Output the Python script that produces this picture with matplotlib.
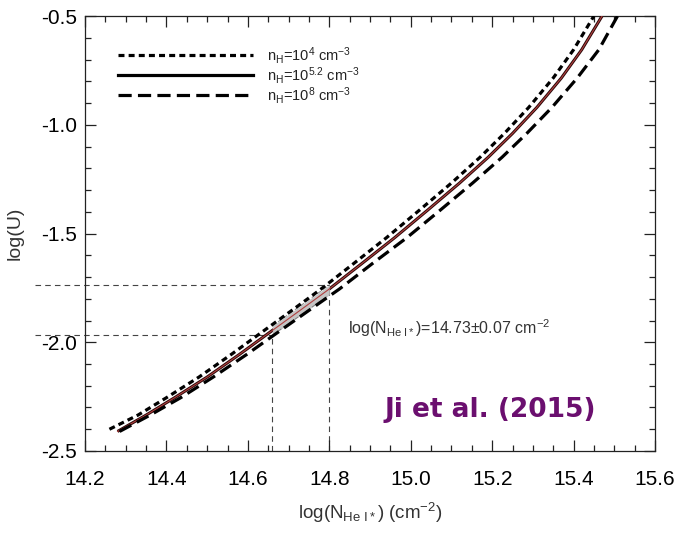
import matplotlib
matplotlib.use("Agg")
import matplotlib.pyplot as plt
from matplotlib.ticker import MultipleLocator

plt.rcParams['font.family'] = ['Liberation Sans', 'DejaVu Sans']
plt.rcParams['mathtext.fontset'] = 'custom'
plt.rcParams['mathtext.rm'] = 'Liberation Sans'
plt.rcParams['mathtext.it'] = 'Liberation Sans:italic'
plt.rcParams['mathtext.bf'] = 'Liberation Sans:bold'
plt.rcParams['lines.scale_dashes'] = False

# ---- data ----
x_solid = [14.28, 14.35, 14.42, 14.50, 14.58, 14.66, 14.73, 14.80, 14.88, 14.96,
           15.04, 15.12, 15.19, 15.25, 15.31, 15.37, 15.42, 15.47]
y_solid = [-2.41, -2.335, -2.255, -2.16, -2.055, -1.946, -1.851, -1.755, -1.638, -1.52,
           -1.395, -1.268, -1.15, -1.04, -0.92, -0.785, -0.655, -0.50]

x_dot = [14.26, 14.33, 14.40, 14.48, 14.56, 14.64, 14.71, 14.78, 14.86, 14.94,
         15.02, 15.10, 15.17, 15.23, 15.29, 15.35, 15.40, 15.45]
y_dot = [-2.40, -2.335, -2.255, -2.16, -2.055, -1.946, -1.851, -1.755, -1.638, -1.52,
         -1.395, -1.268, -1.15, -1.04, -0.92, -0.785, -0.655, -0.50]

x_dash = [14.285, 14.36, 14.435, 14.515, 14.598, 14.68, 14.752, 14.825, 14.906, 14.99,
          15.071, 15.152, 15.224, 15.285, 15.347, 15.409, 15.462, 15.508]
y_dash = [-2.41, -2.335, -2.255, -2.16, -2.055, -1.946, -1.851, -1.755, -1.638, -1.52,
          -1.395, -1.268, -1.15, -1.04, -0.92, -0.785, -0.655, -0.50]

shade_x = [14.66, 14.80]
shade_lo = [-1.968, -1.782]
shade_hi = [-1.925, -1.737]

guide_x = [14.66, 14.80]
guide_y = [-1.967, -1.737]

legend_labels = [r'n$_\mathrm{H}$=10$^4$ cm$^{-3}$',
                 r'n$_\mathrm{H}$=10$^{5.2}$ cm$^{-3}$',
                 r'n$_\mathrm{H}$=10$^8$ cm$^{-3}$']
x_ticks = [14.2, 14.4, 14.6, 14.8, 15.0, 15.2, 15.4, 15.6]
y_ticks = [-2.5, -2.0, -1.5, -1.0, -0.5]

# ---- figure ----
fig = plt.figure(figsize=(6.74, 5.33), dpi=100)
ax = fig.add_axes([85/674, 1-451/533, 570/674, 435/533])

dot_style = (0, (4.3, 3.0))
dash_style = (0, (9.5, 4.5))

# guide lines
gcol = '#444444'
gls = (0, (4, 3))
for gx, gy in zip(guide_x, guide_y):
    ax.plot([14.077, gx], [gy, gy], color=gcol, lw=0.8, ls=gls, clip_on=False, zorder=1)
    ax.plot([gx, gx], [-2.5, gy], color=gcol, lw=0.8, ls=gls, zorder=1)

# curves
ax.plot(x_solid, y_solid, color='#2a0808', lw=2.2, zorder=3, solid_capstyle='butt')

# shaded band (over the dark solid, under the red core)
ax.fill_between(shade_x, shade_lo, shade_hi, color='#c4c4c4', zorder=4, lw=0)
ax.plot(shade_x, shade_lo, color='#777777', lw=0.6, ls=(0, (3, 2)), zorder=4)
ax.plot(shade_x, shade_hi, color='#777777', lw=0.6, ls=(0, (3, 2)), zorder=4)

ax.plot(x_solid, y_solid, color='#b04040', lw=0.8, zorder=5)
ax.plot(x_dot, y_dot, color='black', lw=2.3, ls=dot_style, zorder=6)
ax.plot(x_dash, y_dash, color='black', lw=2.3, ls=dash_style, zorder=6)

# legend drawn manually
leg_y = [0.910, 0.864, 0.818]
styles = [dict(ls=dot_style, color='black', lw=2.3),
          dict(ls='-', color='black', lw=2.3),
          dict(ls=dash_style, color='black', lw=2.3)]
for yy, st, lab in zip(leg_y, styles, legend_labels):
    ax.plot([0.058, 0.295], [yy, yy], transform=ax.transAxes, **st)
    ax.text(0.319, yy, lab, transform=ax.transAxes, fontsize=10.5,
            va='center', ha='left', color='#222222')

ax.text(0.461, 0.283, r'log(N$_{\mathrm{He\ I*}}$)=14.73$\pm$0.07 cm$^{-2}$',
        transform=ax.transAxes, fontsize=11.5, va='center', ha='left', color='#333333')

ax.text(0.711, 0.094, 'Ji et al. (2015)', transform=ax.transAxes,
        fontsize=19, fontweight='bold', color='#6b0f6f', ha='center', va='center',
        family='DejaVu Sans')

# axes styling
ax.set_xlim(14.2, 15.6)
ax.set_ylim(-2.5, -0.5)
ax.set_xticks(x_ticks)
ax.set_yticks(y_ticks)
ax.set_xticklabels([f'{t:.1f}' for t in x_ticks])
ax.set_yticklabels([f'{t:.1f}' for t in y_ticks])
ax.xaxis.set_minor_locator(MultipleLocator(0.05))
ax.yaxis.set_minor_locator(MultipleLocator(0.1))
ax.tick_params(which='both', direction='in', top=True, right=True, width=0.9,
               colors='#222222', labelcolor='black')
ax.tick_params(which='major', length=8, labelsize=15)
ax.tick_params(which='minor', length=4)
ax.tick_params(axis='x', which='major', pad=14)
ax.tick_params(axis='y', which='major', pad=6)
for sp in ax.spines.values():
    sp.set_linewidth(0.9)
    sp.set_color('#222222')

ax.set_xlabel(r'log(N$_{\mathrm{He\ I*}}$) (cm$^{-2}$)', fontsize=13.5, color='#333333', labelpad=8)
ax.set_ylabel('log(U)', fontsize=14, color='#333333', labelpad=12)

fig.savefig('out.png', dpi=100)
